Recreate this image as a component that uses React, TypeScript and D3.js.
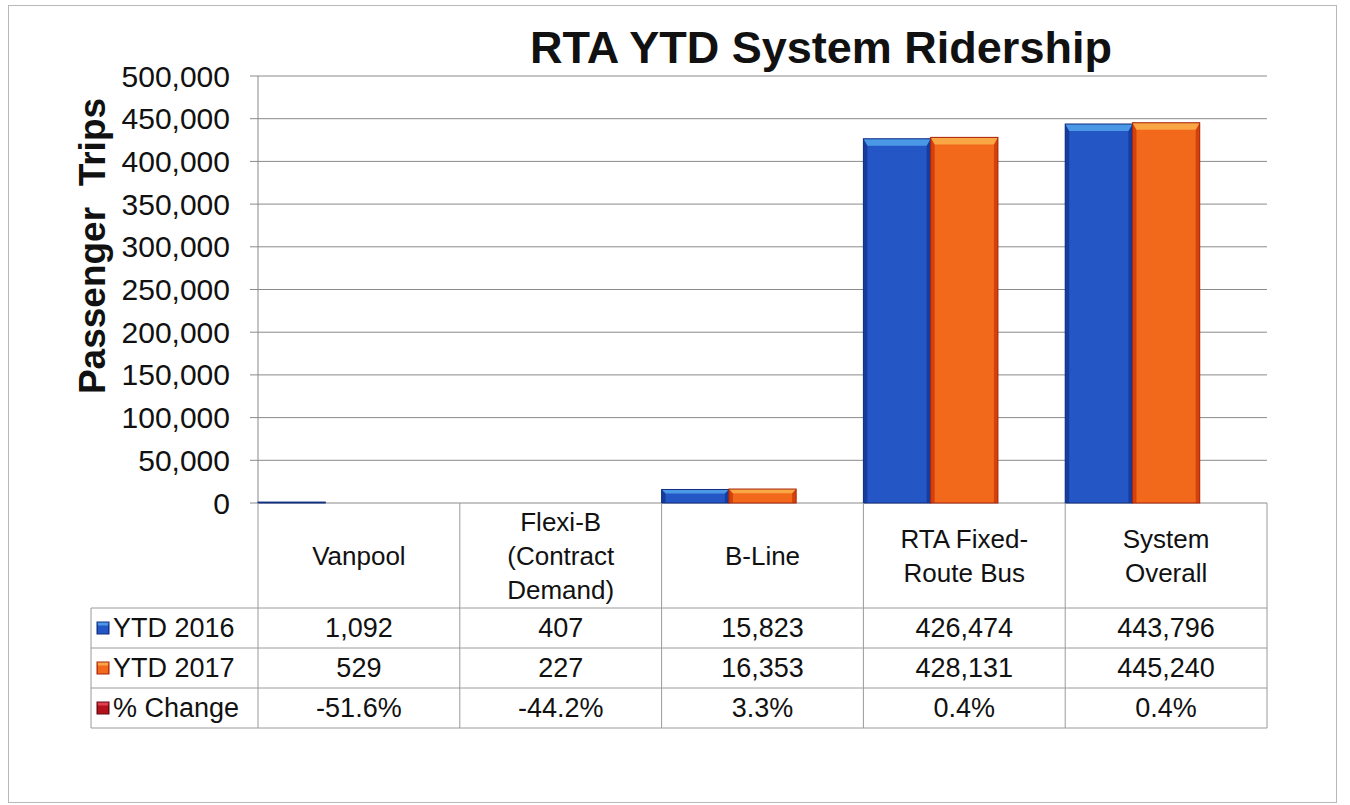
import React from "react";
import * as d3 from "d3";

const categories = ["Vanpool", "Flexi-B\n(Contract\nDemand)", "B-Line", "RTA Fixed-\nRoute Bus", "System\nOverall"];
const ytd2016 = [1092, 407, 15823, 426474, 443796];
const ytd2017 = [529, 227, 16353, 428131, 445240];
const pctChange = ["-51.6%", "-44.2%", "3.3%", "0.4%", "0.4%"];
const yTicks = [0, 50000, 100000, 150000, 200000, 250000, 300000, 350000, 400000, 450000, 500000];
const seriesNames = ["YTD 2016", "YTD 2017", "% Change"];

const W = 1350, H = 805;
const FONT = "'Liberation Sans', Arial, Helvetica, sans-serif";

const plotL = 258, plotR = 1267, plotT = 76, plotB = 503;
const rowTops = [503, 608, 648, 688, 728];
const legendL = 91;

const palettes = [
  { main: "#2456c6", light: "#4a98e6", dark: "#173c9c", edge: "#122f80" },
  { main: "#f2691c", light: "#f9a645", dark: "#d3420c", edge: "#a8240a" },
  { main: "#b3121c", light: "#e04050", dark: "#800a10", edge: "#600810" },
];

function Bar({ x, y, w, h, p }: { x: number; y: number; w: number; h: number; p: typeof palettes[0] }) {
  if (h < 0.5) return null;
  const bev = Math.min(7, h * 0.3);
  const side = Math.min(4, w * 0.08);
  return (
    <g>
      <rect x={x} y={y} width={w} height={h} fill={p.main} />
      <rect x={x} y={y} width={side} height={h} fill={p.dark} />
      <rect x={x + w - side} y={y} width={side} height={h} fill={p.dark} />
      <polygon points={`${x},${y} ${x + w},${y} ${x + w - side},${y + bev} ${x + side},${y + bev}`} fill={p.light} />
      <rect x={x} y={y} width={w} height={h} fill="none" stroke={p.edge} strokeWidth={1} />
    </g>
  );
}

export default function App() {
  const x = d3.scaleBand<number>().domain(d3.range(categories.length)).range([plotL, plotR]).paddingInner(0).paddingOuter(0);
  const y = d3.scaleLinear().domain([0, 500000]).range([plotB, plotT]);
  const bw = x.bandwidth() / 3;
  const fmt = d3.format(",");
  const series = [ytd2016, ytd2017];
  const grid = "#8a8a8a";
  const tbl = "#9a9a9a";

  return (
    <svg width={W} height={H} style={{ position: "absolute", left: 0, top: 0, background: "#fff" }} fontFamily={FONT}>
      <rect x={8.5} y={5.5} width={1328} height={797} fill="#fff" stroke="#b8b8b8" strokeWidth={1} />
      <text x={821} y={47} textAnchor="middle" dominantBaseline="central" fontSize={45} fontWeight="bold" fill="#111">
        RTA YTD System Ridership
      </text>
      <text transform={`translate(92,246) rotate(-90)`} textAnchor="middle" dominantBaseline="central" fontSize={37} fontWeight="bold" fill="#111" style={{ whiteSpace: "pre" }}>
        {"Passenger  Trips"}
      </text>
      {yTicks.map((t) => (
        <g key={t}>
          <line x1={250} x2={plotR} y1={y(t)} y2={y(t)} stroke={grid} strokeWidth={1} />
          <text x={230} y={y(t)} textAnchor="end" dominantBaseline="central" fontSize={30} fill="#111">
            {fmt(t)}
          </text>
        </g>
      ))}
      <line x1={plotL} x2={plotL} y1={plotT} y2={plotB} stroke={grid} strokeWidth={1} />
      {series.map((vals, si) =>
        vals.map((v, ci) => (
          <Bar key={`${si}-${ci}`} x={(x(ci) as number) + si * bw} y={y(v)} w={bw} h={plotB - y(v)} p={palettes[si]} />
        ))
      )}
      {/* data table */}
      <g stroke={tbl} strokeWidth={1} fill="none">
        {rowTops.slice(1).map((ry) => (
          <line key={ry} x1={legendL} x2={plotR} y1={ry} y2={ry} />
        ))}
        <line x1={legendL} x2={legendL} y1={rowTops[1]} y2={rowTops[4]} />
        {d3.range(categories.length + 1).map((i) => {
          const xx = i < categories.length ? (x(i) as number) : plotR;
          return <line key={i} x1={xx} x2={xx} y1={rowTops[0]} y2={rowTops[4]} />;
        })}
      </g>
      {categories.map((c, ci) => {
        const lines = c.split("\n");
        const cx = (x(ci) as number) + x.bandwidth() / 2;
        const cy = (rowTops[0] + rowTops[1]) / 2;
        const lh = 34;
        return (
          <text key={ci} textAnchor="middle" fontSize={26} fill="#111">
            {lines.map((l, li) => (
              <tspan key={li} x={cx} y={cy + (li - (lines.length - 1) / 2) * lh} dominantBaseline="central">
                {l}
              </tspan>
            ))}
          </text>
        );
      })}
      {[ytd2016.map(fmt), ytd2017.map(fmt), pctChange].map((row, ri) => {
        const cy = (rowTops[ri + 1] + rowTops[ri + 2]) / 2;
        return (
          <g key={ri}>
            <Bar x={97} y={cy - 6} w={12} h={12} p={palettes[ri]} />
            <text x={113} y={cy} dominantBaseline="central" fontSize={27} fill="#111">
              {seriesNames[ri]}
            </text>
            {row.map((v, ci) => (
              <text key={ci} x={(x(ci) as number) + x.bandwidth() / 2} y={cy} textAnchor="middle" dominantBaseline="central" fontSize={27} fill="#111">
                {v}
              </text>
            ))}
          </g>
        );
      })}
    </svg>
  );
}
